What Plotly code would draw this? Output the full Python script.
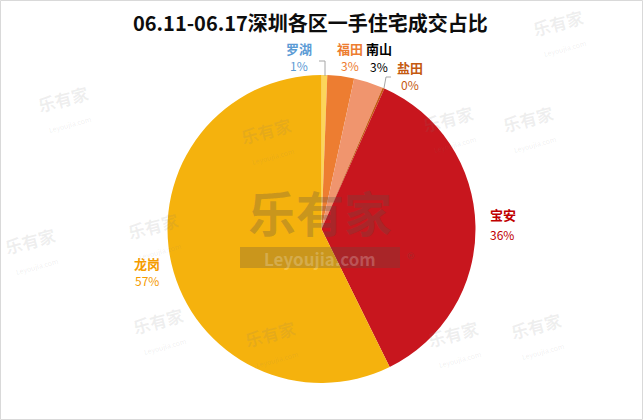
import plotly.graph_objects as go

# ---- data ----
districts = ["罗湖", "福田", "南山", "盐田", "宝安", "龙岗"]
shares = [0.6, 2.8, 3.1, 0.2, 36.0, 57.3]
pct_labels = ["1%", "3%", "3%", "0%", "36%", "57%"]
title_text = "06.11-06.17深圳各区一手住宅成交占比"

# ---- styles ----
slice_colors = ["#FCD55A", "#ED7D31", "#F0956E", "#C55A11", "#C8161E", "#F5B20D"]
label_colors = ["#5B9BD5", "#ED7D31", "#000000", "#C55A11", "#C00000", "#F59C00"]
# label positions in pixels (x, name y, percent y, anchor)
label_pos = {
    "罗湖": (299, 48, 65, "center"),
    "福田": (350, 48, 65, "center"),
    "南山": (379, 48, 66, "center"),
    "盐田": (410, 68, 85, "center"),
    "宝安": (488, 215, 234, "left"),
    "龙岗": (147, 263, 280, "center"),
}

W, H = 643, 420
FONT = "Noto Sans CJK SC"

def px(x):
    return x / W

def py(y):
    return 1 - y / H

fig = go.Figure()
fig.add_trace(go.Pie(
    labels=districts,
    values=shares,
    sort=False,
    direction="clockwise",
    rotation=0,
    marker=dict(colors=slice_colors, line=dict(width=0)),
    textinfo="none",
    hoverinfo="label+percent",
    showlegend=False,
    domain=dict(x=[167.5 / W, 475.5 / W], y=[1 - 383 / H, 1 - 75 / H]),
))

annotations = []

def ann(x, y, text, size, color, xanchor="center", **kw):
    annotations.append(dict(
        x=px(x), y=py(y), xref="paper", yref="paper", showarrow=False,
        xanchor=xanchor, yanchor="middle", text=text,
        font=dict(family=FONT, size=size, color=color), **kw))

# watermarks (background decoration)
small_wm = [(65, 108), (155, 235), (160, 330), (530, 128), (538, 335), (560, 32),
            (268, 140), (450, 128), (272, 343), (455, 343), (32, 250)]
for (x, y) in small_wm:
    ann(x, y, "<b>乐有家</b><br><span style='font-size:7px'>Leyoujia.com</span>",
        17, "rgba(120,120,120,0.12)", textangle=-15)
ann(320, 211, "<b>乐有家</b>", 48, "rgba(90,80,70,0.28)")
ann(320, 258, "<b>Leyoujia.com</b>", 17, "rgba(255,255,255,0.22)")
ann(411, 258, "®", 16, "rgba(90,80,70,0.28)")

# data labels
for name, pct, lc in zip(districts, pct_labels, label_colors):
    x, yn, yp, anchor = label_pos[name]
    ann(x, yn, f"<b>{name}</b>", 13, lc, xanchor=anchor)
    ann(x, yp, pct, 12, lc, xanchor=anchor)

# title
ann(310, 22, f"<b>{title_text}</b>", 20, "#0D0D0D")

shapes = [
    # watermark bar behind "Leyoujia.com"
    dict(type="rect", xref="paper", yref="paper", layer="above",
         x0=px(240), x1=px(400), y0=py(268), y1=py(247),
         fillcolor="rgba(90,80,70,0.28)", line=dict(width=0)),
    # leader lines
    dict(type="path", xref="paper", yref="paper",
         path=f"M {px(319)} {py(61)} L {px(325)} {py(61)} L {px(325)} {py(76)}",
         line=dict(color="#A6A6A6", width=1)),
    dict(type="path", xref="paper", yref="paper",
         path=f"M {px(384)} {py(88)} L {px(386)} {py(77)} L {px(391)} {py(77)}",
         line=dict(color="#A6A6A6", width=1)),
    # outer border
    dict(type="rect", xref="paper", yref="paper", x0=0.5 / W, x1=1 - 0.5 / W,
         y0=0.5 / H, y1=1 - 0.5 / H, line=dict(color="#D9D9D9", width=1)),
]

fig.update_layout(
    width=W, height=H,
    margin=dict(l=0, r=0, t=0, b=0),
    paper_bgcolor="white", plot_bgcolor="white",
    annotations=annotations, shapes=shapes,
    font=dict(family=FONT),
)
fig.write_html("out.html", config={"displayModeBar": False},
               post_script="document.body.style.margin='0';document.body.style.overflow='hidden';")
